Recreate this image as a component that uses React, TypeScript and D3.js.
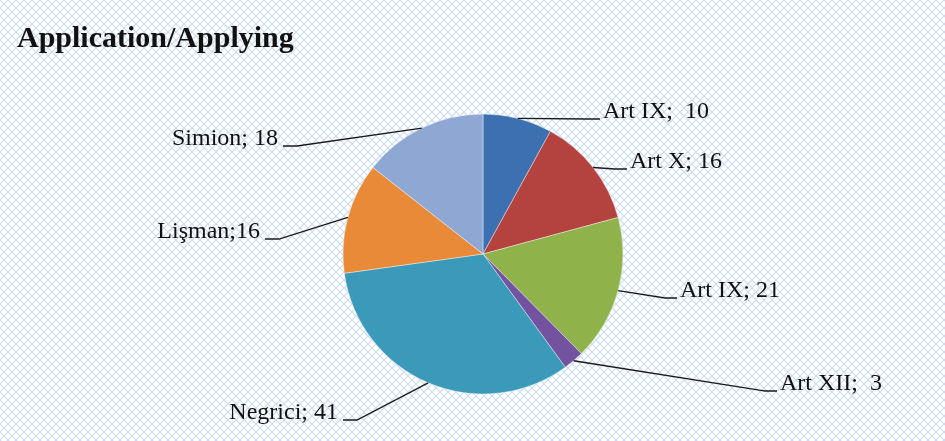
import React from 'react';
import * as d3 from 'd3';

// data
const names = ['Art IX', 'Art X', 'Art IX', 'Art XII', 'Negrici', 'Lişman', 'Simion'];
const values = [10, 16, 21, 3, 41, 16, 18];
const labels = ['Art IX;  10', 'Art X; 16', 'Art IX; 21', 'Art XII;  3', 'Negrici; 41', 'Lişman;16', 'Simion; 18'];
const colors = ['#3d70b0', '#b4423e', '#8fb24b', '#7352a0', '#3b9aba', '#e88a38', '#8fa7d3'];

// where each label was placed (text anchor x, baseline y) and which side it sits on
const labelX = [603, 630, 680, 780, 338, 260, 278];
const labelY = [118, 168, 297, 390, 419, 238, 145];
const labelSide = ['right', 'right', 'right', 'right', 'left', 'left', 'left'];

const width = 945;
const height = 441;
const cx = 483;
const cy = 254;
const radius = 140;

const App = () => {
  const pie = d3.pie<number>().value(d => d).sort(null);
  const arcs = pie(values);
  const arc = d3.arc<d3.PieArcDatum<number>>().innerRadius(0).outerRadius(radius);

  // point on the rim at each slice's middle angle
  const rim = (a: d3.PieArcDatum<number>) => {
    const m = (a.startAngle + a.endAngle) / 2;
    return [cx + radius * Math.sin(m), cy - radius * Math.cos(m)];
  };

  return (
    <svg width={width} height={height} style={{ position: 'fixed', left: 0, top: 0 }}>
      <defs>
        <pattern id="hatch" width="8" height="8" patternUnits="userSpaceOnUse">
          <rect width="8" height="8" fill="#ffffff" />
          <path d="M0,0 L8,8 M8,0 L0,8" stroke="#cadcf1" strokeWidth="1.1" />
        </pattern>
      </defs>
      <rect width={width} height={height} fill="url(#hatch)" />

      <text x={17} y={47} fontFamily="'Liberation Serif', serif" fontWeight="bold" fontSize={30} fill="#111">
        Application/Applying
      </text>

      <g transform={`translate(${cx},${cy})`}>
        {arcs.map((a, i) => (
          <path key={i} d={arc(a) || ''} fill={colors[i]} stroke="#ffffff" strokeOpacity={0.5} strokeWidth={0.8} />
        ))}
      </g>

      {arcs.map((a, i) => {
        const [x0, y0] = rim(a);
        const right = labelSide[i] === 'right';
        const ly = labelY[i] + 1;
        const tx = right ? labelX[i] - 3 : labelX[i] + 5;
        const knee = right ? tx - 12 : tx + 14;
        const pts: [number, number][] = [[x0, y0], [knee, ly], [tx, ly]];
        return (
          <g key={i}>
            <path d={d3.line()(pts) || ''} fill="none" stroke="#1a1a1a" strokeWidth={1.3} />
            <text
              x={labelX[i]}
              y={labelY[i]}
              textAnchor={right ? 'start' : 'end'}
              fontFamily="'Liberation Serif', serif"
              fontSize={24}
              fill="#111"
              style={{ whiteSpace: 'pre' }}
            >
              {labels[i]}
            </text>
          </g>
        );
      })}
    </svg>
  );
};

export default App;
